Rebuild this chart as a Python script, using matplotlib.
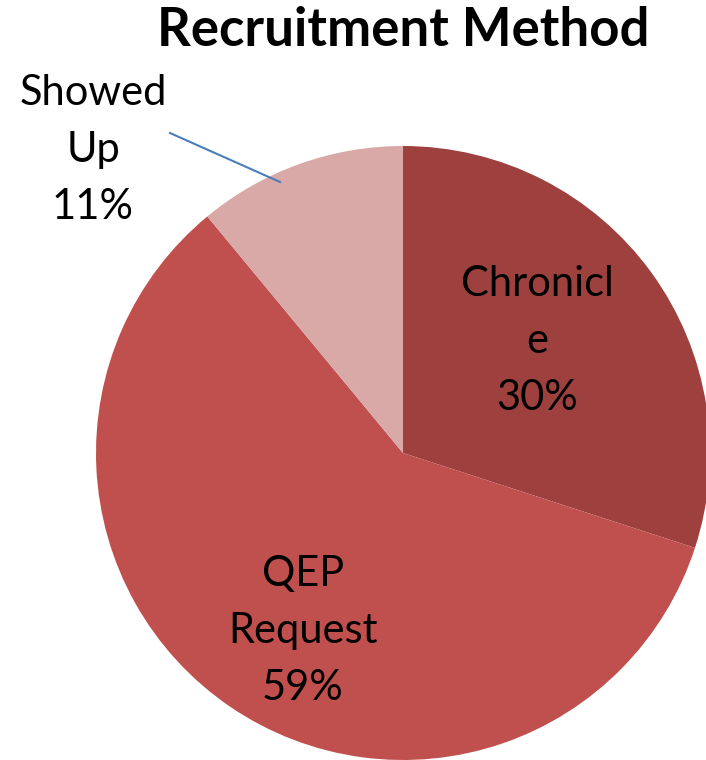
import matplotlib
matplotlib.use('Agg')
import matplotlib.pyplot as plt

# data
categories = ['Chronicle', 'QEP Request', 'Showed Up']
label_texts = ['Chronicl\ne\n30%', 'QEP\nRequest\n59%', 'Showed\nUp\n11%']
shares = [30, 59, 11]
colors = ['#9E413E', '#C0504D', '#D9A9A8']

W, H = 706, 760
fig = plt.figure(figsize=(W / 100, H / 100), dpi=100)
ax = fig.add_axes([0, 0, 1, 1])

# pie spills past the right and bottom edges, like the original
cx, cy, r = 403, H - 453, 307
ax.pie(shares, colors=colors, startangle=90, counterclock=False,
       center=(cx, cy), radius=r, frame=True,
       wedgeprops=dict(linewidth=0))
ax.set_xlim(0, W)
ax.set_ylim(0, H)
ax.set_aspect('equal')
ax.axis('off')

font = 'Lato'
label_pos = [(537, H - 341), (303, H - 631), (93, H - 150)]
for txt, (x, y) in zip(label_texts, label_pos):
    ax.text(x, y, txt, ha='center', va='center', fontsize=30,
            family=font, linespacing=1.6, color='black')

# leader line for the small slice
ax.plot([170, 280], [H - 133, H - 182], color='#4A7EBB', lw=1.5)

ax.text(403, H - 31, 'Recruitment Method', ha='center', va='center',
        fontsize=38, fontweight='bold', family=font)

fig.savefig('out.png', dpi=100)
